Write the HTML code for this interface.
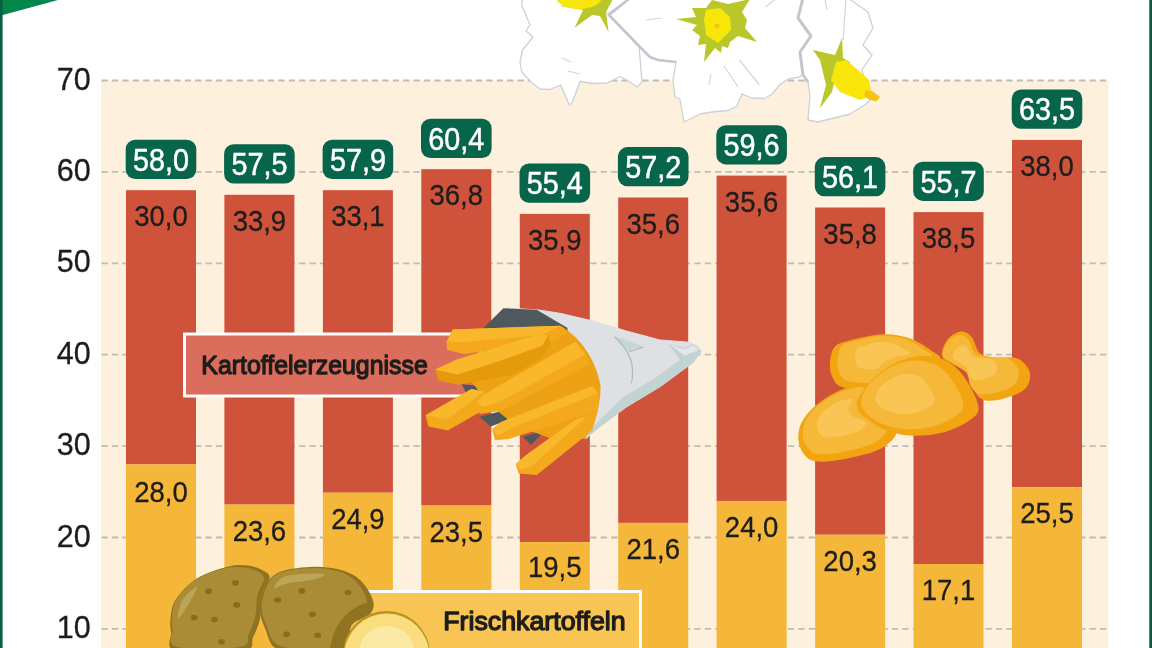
<!DOCTYPE html>
<html lang="de"><head><meta charset="utf-8"><title>Kartoffelverbrauch</title>
<style>html,body{margin:0;padding:0;background:#fff;}body{width:1152px;height:648px;overflow:hidden;}svg{display:block;}text{font-family:"Liberation Sans",sans-serif;}</style></head><body>
<svg width="1152" height="648" viewBox="0 0 1152 648">
<rect width="1152" height="648" fill="#fff"/>
<rect x="101" y="80.5" width="1007.5" height="567.5" fill="#fdf0dc"/>
<line x1="101" x2="1108.5" y1="628.9" y2="628.9" stroke="#bfbdb3" stroke-width="1.8" stroke-dasharray="6.3 4.1" stroke-dashoffset="-0.5"/>
<line x1="101" x2="1108.5" y1="537.5" y2="537.5" stroke="#bfbdb3" stroke-width="1.8" stroke-dasharray="6.3 4.1" stroke-dashoffset="-0.5"/>
<line x1="101" x2="1108.5" y1="446.1" y2="446.1" stroke="#bfbdb3" stroke-width="1.8" stroke-dasharray="6.3 4.1" stroke-dashoffset="-0.5"/>
<line x1="101" x2="1108.5" y1="354.7" y2="354.7" stroke="#bfbdb3" stroke-width="1.8" stroke-dasharray="6.3 4.1" stroke-dashoffset="-0.5"/>
<line x1="101" x2="1108.5" y1="263.3" y2="263.3" stroke="#bfbdb3" stroke-width="1.8" stroke-dasharray="6.3 4.1" stroke-dashoffset="-0.5"/>
<line x1="101" x2="1108.5" y1="171.9" y2="171.9" stroke="#bfbdb3" stroke-width="1.8" stroke-dasharray="6.3 4.1" stroke-dashoffset="-0.5"/>
<line x1="101" x2="1108.5" y1="80.5" y2="80.5" stroke="#bfbdb3" stroke-width="1.8" stroke-dasharray="6.3 4.1" stroke-dashoffset="-0.5"/>
<text x="90.8" y="637.9" font-size="30.5" text-anchor="end" fill="#1d1d1b" stroke="#1d1d1b" stroke-width="0.3">10</text>
<text x="90.8" y="546.5" font-size="30.5" text-anchor="end" fill="#1d1d1b" stroke="#1d1d1b" stroke-width="0.3">20</text>
<text x="90.8" y="455.1" font-size="30.5" text-anchor="end" fill="#1d1d1b" stroke="#1d1d1b" stroke-width="0.3">30</text>
<text x="90.8" y="363.7" font-size="30.5" text-anchor="end" fill="#1d1d1b" stroke="#1d1d1b" stroke-width="0.3">40</text>
<text x="90.8" y="272.3" font-size="30.5" text-anchor="end" fill="#1d1d1b" stroke="#1d1d1b" stroke-width="0.3">50</text>
<text x="90.8" y="180.9" font-size="30.5" text-anchor="end" fill="#1d1d1b" stroke="#1d1d1b" stroke-width="0.3">60</text>
<text x="90.8" y="89.5" font-size="30.5" text-anchor="end" fill="#1d1d1b" stroke="#1d1d1b" stroke-width="0.3">70</text>
<rect x="126.0" y="190.2" width="70" height="274.2" fill="#cf523b"/>
<rect x="126.0" y="464.4" width="70" height="183.6" fill="#f5b73a"/>
<rect x="224.4" y="194.8" width="70" height="309.8" fill="#cf523b"/>
<rect x="224.4" y="504.6" width="70" height="143.4" fill="#f5b73a"/>
<rect x="322.9" y="190.2" width="70" height="302.5" fill="#cf523b"/>
<rect x="322.9" y="492.7" width="70" height="155.3" fill="#f5b73a"/>
<rect x="421.3" y="169.2" width="70" height="336.4" fill="#cf523b"/>
<rect x="421.3" y="505.5" width="70" height="142.5" fill="#f5b73a"/>
<rect x="519.8" y="213.9" width="70" height="328.1" fill="#cf523b"/>
<rect x="519.8" y="542.1" width="70" height="105.9" fill="#f5b73a"/>
<rect x="618.2" y="197.5" width="70" height="325.4" fill="#cf523b"/>
<rect x="618.2" y="522.9" width="70" height="125.1" fill="#f5b73a"/>
<rect x="716.6" y="175.6" width="70" height="325.4" fill="#cf523b"/>
<rect x="716.6" y="500.9" width="70" height="147.1" fill="#f5b73a"/>
<rect x="815.1" y="207.5" width="70" height="327.2" fill="#cf523b"/>
<rect x="815.1" y="534.8" width="70" height="113.2" fill="#f5b73a"/>
<rect x="913.5" y="212.1" width="70" height="351.9" fill="#cf523b"/>
<rect x="913.5" y="564.0" width="70" height="84.0" fill="#f5b73a"/>
<rect x="1012.0" y="139.9" width="70" height="347.3" fill="#cf523b"/>
<rect x="1012.0" y="487.2" width="70" height="160.8" fill="#f5b73a"/>
<rect x="125.7" y="139.8" width="70.6" height="39.2" rx="9.5" fill="#06654b"/>
<text x="161.0" y="170.7" font-size="30.5" text-anchor="middle" fill="#fff" stroke="#fff" stroke-width="0.5" textLength="56" lengthAdjust="spacingAndGlyphs">58,0</text>
<text x="161.0" y="226.2" font-size="29.8" text-anchor="middle" fill="#1d1d1b" stroke="#1d1d1b" stroke-width="0.3" textLength="53.5" lengthAdjust="spacingAndGlyphs">30,0</text>
<text x="161.0" y="501.7" font-size="29.8" text-anchor="middle" fill="#1d1d1b" stroke="#1d1d1b" stroke-width="0.3" textLength="53.5" lengthAdjust="spacingAndGlyphs">28,0</text>
<rect x="224.1" y="144.3" width="70.6" height="39.2" rx="9.5" fill="#06654b"/>
<text x="259.4" y="175.2" font-size="30.5" text-anchor="middle" fill="#fff" stroke="#fff" stroke-width="0.5" textLength="56" lengthAdjust="spacingAndGlyphs">57,5</text>
<text x="259.4" y="230.8" font-size="29.8" text-anchor="middle" fill="#1d1d1b" stroke="#1d1d1b" stroke-width="0.3" textLength="53.5" lengthAdjust="spacingAndGlyphs">33,9</text>
<text x="259.4" y="540.6" font-size="29.8" text-anchor="middle" fill="#1d1d1b" stroke="#1d1d1b" stroke-width="0.3" textLength="53.5" lengthAdjust="spacingAndGlyphs">23,6</text>
<rect x="322.6" y="139.8" width="70.6" height="39.2" rx="9.5" fill="#06654b"/>
<text x="357.9" y="170.7" font-size="30.5" text-anchor="middle" fill="#fff" stroke="#fff" stroke-width="0.5" textLength="56" lengthAdjust="spacingAndGlyphs">57,9</text>
<text x="357.9" y="226.2" font-size="29.8" text-anchor="middle" fill="#1d1d1b" stroke="#1d1d1b" stroke-width="0.3" textLength="53.5" lengthAdjust="spacingAndGlyphs">33,1</text>
<text x="357.9" y="528.7" font-size="29.8" text-anchor="middle" fill="#1d1d1b" stroke="#1d1d1b" stroke-width="0.3" textLength="53.5" lengthAdjust="spacingAndGlyphs">24,9</text>
<rect x="421.0" y="118.8" width="70.6" height="39.2" rx="9.5" fill="#06654b"/>
<text x="456.3" y="149.7" font-size="30.5" text-anchor="middle" fill="#fff" stroke="#fff" stroke-width="0.5" textLength="56" lengthAdjust="spacingAndGlyphs">60,4</text>
<text x="456.3" y="205.2" font-size="29.8" text-anchor="middle" fill="#1d1d1b" stroke="#1d1d1b" stroke-width="0.3" textLength="53.5" lengthAdjust="spacingAndGlyphs">36,8</text>
<text x="456.3" y="541.5" font-size="29.8" text-anchor="middle" fill="#1d1d1b" stroke="#1d1d1b" stroke-width="0.3" textLength="53.5" lengthAdjust="spacingAndGlyphs">23,5</text>
<rect x="519.5" y="163.5" width="70.6" height="39.2" rx="9.5" fill="#06654b"/>
<text x="554.8" y="194.4" font-size="30.5" text-anchor="middle" fill="#fff" stroke="#fff" stroke-width="0.5" textLength="56" lengthAdjust="spacingAndGlyphs">55,4</text>
<text x="554.8" y="249.9" font-size="29.8" text-anchor="middle" fill="#1d1d1b" stroke="#1d1d1b" stroke-width="0.3" textLength="53.5" lengthAdjust="spacingAndGlyphs">35,9</text>
<text x="554.8" y="576.6" font-size="29.8" text-anchor="middle" fill="#1d1d1b" stroke="#1d1d1b" stroke-width="0.3" textLength="53.5" lengthAdjust="spacingAndGlyphs">19,5</text>
<rect x="617.9" y="147.1" width="70.6" height="39.2" rx="9.5" fill="#06654b"/>
<text x="653.2" y="178.0" font-size="30.5" text-anchor="middle" fill="#fff" stroke="#fff" stroke-width="0.5" textLength="56" lengthAdjust="spacingAndGlyphs">57,2</text>
<text x="653.2" y="233.5" font-size="29.8" text-anchor="middle" fill="#1d1d1b" stroke="#1d1d1b" stroke-width="0.3" textLength="53.5" lengthAdjust="spacingAndGlyphs">35,6</text>
<text x="653.2" y="558.9" font-size="29.8" text-anchor="middle" fill="#1d1d1b" stroke="#1d1d1b" stroke-width="0.3" textLength="53.5" lengthAdjust="spacingAndGlyphs">21,6</text>
<rect x="716.3" y="125.2" width="70.6" height="39.2" rx="9.5" fill="#06654b"/>
<text x="751.6" y="156.1" font-size="30.5" text-anchor="middle" fill="#fff" stroke="#fff" stroke-width="0.5" textLength="56" lengthAdjust="spacingAndGlyphs">59,6</text>
<text x="751.6" y="211.6" font-size="29.8" text-anchor="middle" fill="#1d1d1b" stroke="#1d1d1b" stroke-width="0.3" textLength="53.5" lengthAdjust="spacingAndGlyphs">35,6</text>
<text x="751.6" y="536.9" font-size="29.8" text-anchor="middle" fill="#1d1d1b" stroke="#1d1d1b" stroke-width="0.3" textLength="53.5" lengthAdjust="spacingAndGlyphs">24,0</text>
<rect x="814.8" y="157.1" width="70.6" height="39.2" rx="9.5" fill="#06654b"/>
<text x="850.1" y="188.0" font-size="30.5" text-anchor="middle" fill="#fff" stroke="#fff" stroke-width="0.5" textLength="56" lengthAdjust="spacingAndGlyphs">56,1</text>
<text x="850.1" y="243.5" font-size="29.8" text-anchor="middle" fill="#1d1d1b" stroke="#1d1d1b" stroke-width="0.3" textLength="53.5" lengthAdjust="spacingAndGlyphs">35,8</text>
<text x="850.1" y="570.8" font-size="29.8" text-anchor="middle" fill="#1d1d1b" stroke="#1d1d1b" stroke-width="0.3" textLength="53.5" lengthAdjust="spacingAndGlyphs">20,3</text>
<rect x="913.2" y="161.7" width="70.6" height="39.2" rx="9.5" fill="#06654b"/>
<text x="948.5" y="192.6" font-size="30.5" text-anchor="middle" fill="#fff" stroke="#fff" stroke-width="0.5" textLength="56" lengthAdjust="spacingAndGlyphs">55,7</text>
<text x="948.5" y="248.1" font-size="29.8" text-anchor="middle" fill="#1d1d1b" stroke="#1d1d1b" stroke-width="0.3" textLength="53.5" lengthAdjust="spacingAndGlyphs">38,5</text>
<text x="948.5" y="600.0" font-size="29.8" text-anchor="middle" fill="#1d1d1b" stroke="#1d1d1b" stroke-width="0.3" textLength="53.5" lengthAdjust="spacingAndGlyphs">17,1</text>
<rect x="1011.7" y="89.5" width="70.6" height="39.2" rx="9.5" fill="#06654b"/>
<text x="1047.0" y="120.4" font-size="30.5" text-anchor="middle" fill="#fff" stroke="#fff" stroke-width="0.5" textLength="56" lengthAdjust="spacingAndGlyphs">63,5</text>
<text x="1047.0" y="175.9" font-size="29.8" text-anchor="middle" fill="#1d1d1b" stroke="#1d1d1b" stroke-width="0.3" textLength="53.5" lengthAdjust="spacingAndGlyphs">38,0</text>
<text x="1047.0" y="523.2" font-size="29.8" text-anchor="middle" fill="#1d1d1b" stroke="#1d1d1b" stroke-width="0.3" textLength="53.5" lengthAdjust="spacingAndGlyphs">25,5</text>
<rect x="184.5" y="334" width="296" height="62" fill="#da6d5b" stroke="#fff" stroke-width="3"/>
<text x="201.3" y="373.5" font-size="26" fill="#1d1d1b" stroke="#1d1d1b" stroke-width="1.3" stroke-linejoin="round" textLength="226.5" lengthAdjust="spacingAndGlyphs">Kartoffelerzeugnisse</text>
<rect x="340" y="591.5" width="300.5" height="70" fill="#f8c453" stroke="#fff" stroke-width="3"/>
<text x="443.2" y="630.3" font-size="26" fill="#1d1d1b" stroke="#1d1d1b" stroke-width="1.3" stroke-linejoin="round" textLength="182.5" lengthAdjust="spacingAndGlyphs">Frischkartoffeln</text>
<polygon points="522.5,-2.0 521.7,5.0 530.0,25.0 526.0,31.0 533.0,37.0 522.5,50.0 520.0,62.0 521.7,72.0 531.0,82.0 540.0,89.0 550.0,89.5 560.7,85.0 569.4,105.0 572.0,103.0 580.0,81.5 592.0,83.5 607.6,82.8 620.0,76.5 628.5,81.0 637.0,87.0 642.0,82.0 639.0,46.0 611.0,17.0 607.6,14.0 630.0,-2.0" fill="#fff" stroke="#cdd1d6" stroke-width="1.3" stroke-linejoin="round"/>
<polygon points="630.0,-2.0 609.0,15.0 639.0,46.0 650.0,57.0 658.0,60.0 676.0,62.0 673.0,80.0 675.0,97.0 680.0,99.0 684.0,122.0 700.0,114.0 712.0,112.0 728.0,110.5 737.0,106.0 742.0,94.0 752.0,98.0 764.5,98.5 772.0,94.0 780.5,84.0 788.5,79.0 800.0,77.0 806.0,70.0 800.0,52.0 811.0,36.0 798.0,18.0 803.0,-2.0" fill="#fff" stroke="#cdd1d6" stroke-width="1.3" stroke-linejoin="round"/>
<polygon points="803.0,-2.0 798.0,18.0 811.0,36.0 800.0,52.0 803.0,75.0 808.0,82.0 810.0,95.0 808.0,120.0 818.0,122.0 850.0,114.0 866.0,104.0 871.0,99.0 866.0,85.0 862.0,70.0 872.0,55.0 863.0,45.0 873.0,28.0 868.0,12.0 848.0,-2.0" fill="#fff" stroke="#cdd1d6" stroke-width="1.3" stroke-linejoin="round"/>
<polyline points="630,-2 609,15 639,46 650,57 658,60 676,62" fill="none" stroke="#c3c7cd" stroke-width="2.6" stroke-linejoin="round"/>
<polyline points="803,-2 798,18 811,36 800,52 803,75 808,82" fill="none" stroke="#c3c7cd" stroke-width="3" stroke-linejoin="round"/>
<polyline points="739.4,60 759.5,85" fill="none" stroke="#d3d6da" stroke-width="1.2"/>
<polyline points="724,66 738,87" fill="none" stroke="#d3d6da" stroke-width="1.2"/>
<polyline points="711,74 709,85" fill="none" stroke="#d3d6da" stroke-width="1.2"/>
<polyline points="646,20 662,18" fill="none" stroke="#d3d6da" stroke-width="1.2"/>
<polyline points="774.5,0 765.5,7" fill="none" stroke="#d3d6da" stroke-width="1.2"/>
<polyline points="562,58 571,62" fill="none" stroke="#d3d6da" stroke-width="1.2"/>
<polyline points="568,71 580,74" fill="none" stroke="#d3d6da" stroke-width="1.2"/>
<polyline points="846,0 843,40" fill="none" stroke="#d3d6da" stroke-width="1.2"/>
<polyline points="825,0 827,10" fill="none" stroke="#d3d6da" stroke-width="1.2"/>
<polygon points="560,6 583,10 574.6,27.8 592,15 600,16 608.5,32 606,12 613,-1 590,-1" fill="#b9c72b"/>
<ellipse cx="579" cy="-3" rx="23" ry="12" fill="#f8e60a"/>
<polygon points="676,19 696,17 692,8 706,8 712,0 728,4 750,-1 742,12 747,20 745,28 757,42 738,36 730,42 728,48 722,46 721,53 715,48 704,62 706,44 698,45 700,36 692,30 697,25" fill="#b9c72b"/>
<circle cx="718" cy="26" r="19" fill="#b9c72b"/>
<polygon points="706,10 720,8 730,17 731,30 718,43 706,35 704,20" fill="#f8e60a"/>
<circle cx="717" cy="26" r="2.5" fill="#f2c513"/>
<polygon points="813,50 835,55 842,38 843,58 850,62 836,75 832,92 820,108 826,85 820,60" fill="#b9c72b"/>
<polygon points="836,62 846,60 858,70 869,80 871,90 866,98 860,100 840,92 831,80" fill="#f8e60a"/>
<polygon points="866,90 872,91 880,97 876,101.5 868,99 864,95" fill="#f6c10f"/>
<polygon points="506.5,308.0 539.0,310.0 560.0,313.3 593.3,321.1 626.7,331.1 660.0,340.0 688.9,342.2 698.0,346.0 701.5,351.0 693.3,362.2 660.0,386.7 626.7,406.7 600.0,426.7 586.0,438.5 570.0,420.0 570.0,382.6 560.0,358.0 550.0,339.0 530.0,320.0" fill="#dfe0e3" stroke="#dfe0e3" stroke-width="1" stroke-linejoin="round"/>
<polygon points="701.3,351.6 693.3,362.7 660.0,387.1 626.7,407.1 600.0,427.1 584.4,439.6 586.7,433.3 622.2,397.8 655.6,377.8 680.0,360.0 668.9,344.4 684.4,347.8 693.3,344.4" fill="#c2d3d3"/>
<polygon points="671.1,345.6 684.4,349.3 693.3,345.6 698.9,350.0 684.4,355.6" fill="#e4e6e8"/>
<polygon points="614.4,336.7 628.9,351.6 633.3,348.0 643.3,347.1 624.4,338.9" fill="#c6d5d5"/>
<path d="M614.4,336.7 Q631.1,352.2 632.2,366.7 T630.7,383.3" fill="none" stroke="#aebcbf" stroke-width="1.3"/>
<polyline points="629.3,351.6 643.3,347.1" fill="none" stroke="#aebcbf" stroke-width="1.3"/>
<polygon points="483.3,328.3 503.3,308.3 536.7,309.7 567.2,327.8 570.0,344.4 503.3,344.4" fill="#4e595d"/>
<polygon points="461.7,384.2 486.7,386.7 479.7,395.8 465.8,392.2" fill="#4e595d"/>
<polygon points="479.7,416.7 517.2,406.9 506.1,420.8 490.8,426.4" fill="#4e595d"/>
<polygon points="522.8,436.7 545.0,430.6 531.1,445.0" fill="#4e595d"/>
<path d="M561.5,326 C584,341 596,362 600.5,386 C601,400 597,420 585,438.5 L560,442 L515,425 L490,405 L470,380 L500,345 L540,330 Z" fill="#eda114"/>
<polygon points="515.8,463.9 525.6,455.6 575.6,419.4 597.8,411.1 592.2,430.6 536.7,475.0 518.6,473.6" fill="#f4a81c"/>
<polygon points="515.8,463.9 525.6,455.6 575.6,419.4 586.7,416.7 531.1,466.7 520.0,469.4" fill="#f9b82c"/>
<polygon points="492.2,429.2 500.6,422.2 592.2,386.1 599.2,394.4 597.8,411.1 508.9,438.9 495.0,440.3" fill="#f4a81c"/>
<polygon points="492.2,429.2 500.6,422.2 592.2,386.1 597.8,393.1 511.7,427.8 497.8,436.1" fill="#f9b82c"/>
<polygon points="425.6,415.3 471.4,388.9 483.9,391.7 486.7,408.3 447.8,430.6 428.3,426.4" fill="#f4a81c"/>
<polygon points="425.6,415.3 471.4,388.9 483.9,391.7 446.4,419.4" fill="#f9b82c"/>
<polygon points="476.9,402.8 483.9,394.4 575.6,341.7 586.7,355.6 589.4,363.9 500.6,411.1 479.7,413.9" fill="#f4a81c"/>
<polygon points="476.9,402.8 483.9,394.4 575.6,341.7 585.3,354.2 497.8,402.8 482.5,406.9" fill="#f9b82c"/>
<polygon points="446.4,341.7 452.8,329.4 560.3,325.8 567.2,333.3 550.6,341.7 464.4,354.2 447.2,350.0" fill="#f4a81c"/>
<polygon points="452.8,329.4 560.3,325.8 542.2,334.7 461.7,342.2 446.9,341.7" fill="#f9b82c"/>
<polygon points="435.3,369.4 456.1,359.7 536.7,334.7 549.2,334.7 550.6,345.8 539.4,359.7 511.7,375.0 458.9,384.7 438.1,380.6" fill="#e59a0c"/>
<polygon points="435.3,369.4 456.1,359.7 536.7,334.7 548.3,334.7 542.2,345.8 503.3,359.7 457.5,374.4" fill="#f9b82c"/>
<path d="M829.9,364.0C830.2,359.0 831.1,351.6 834.0,347.8C836.9,344.0 839.4,343.3 847.5,341.0C855.6,338.8 872.2,334.7 882.6,334.3C892.9,333.8 901.5,335.6 909.6,338.3C917.7,341.0 926.2,347.1 931.2,350.5C936.1,353.9 942.9,356.3 939.3,358.6C935.7,360.8 918.1,361.3 909.6,364.0C901.0,366.7 894.3,370.7 888.0,374.8C881.7,378.8 879.4,386.3 871.8,388.3C864.1,390.3 848.6,388.7 842.1,386.9C835.6,385.1 834.7,381.3 832.6,377.5C830.6,373.7 829.7,368.9 829.9,364.0Z" fill="#f2a510"/>
<path d="M837.3,361.3C837.5,357.1 838.3,350.7 840.8,347.4C843.3,344.1 845.5,343.5 852.4,341.6C859.4,339.7 873.7,336.2 882.6,335.8C891.5,335.4 898.9,337.0 905.8,339.3C912.8,341.6 920.1,346.8 924.4,349.7C928.7,352.6 934.5,354.8 931.4,356.7C928.3,358.6 913.2,359.0 905.8,361.3C898.5,363.7 892.7,367.2 887.2,370.6C881.8,374.1 879.9,380.5 873.3,382.2C866.7,384.0 853.4,382.6 847.8,381.1C842.2,379.5 841.4,376.2 839.7,373.0C837.9,369.7 837.1,365.6 837.3,361.3Z" fill="#f6b838"/>
<path d="M855.0,356.9C855.1,354.4 855.5,350.7 857.0,348.8C858.4,346.8 859.7,346.5 863.7,345.4C867.8,344.3 876.1,342.2 881.3,342.0C886.5,341.8 890.7,342.7 894.8,344.0C898.8,345.4 903.1,348.4 905.6,350.1C908.1,351.8 911.4,353.0 909.6,354.2C907.8,355.3 899.1,355.5 894.8,356.9C890.5,358.2 887.1,360.2 884.0,362.3C880.8,364.3 879.7,368.0 875.9,369.0C872.1,370.0 864.3,369.2 861.0,368.3C857.8,367.4 857.3,365.5 856.3,363.6C855.3,361.7 854.8,359.3 855.0,356.9Z" fill="#f9c95f" opacity="0.75"/>
<path d="M942.0,355.9C941.1,351.8 944.2,343.7 947.4,339.7C950.5,335.6 956.8,332.0 960.9,331.6C964.9,331.1 968.5,333.4 971.7,337.0C974.8,340.6 975.7,349.8 979.8,353.2C983.8,356.6 989.7,356.3 996.0,357.2C1002.3,358.1 1012.0,356.1 1017.6,358.6C1023.2,361.1 1028.4,367.1 1029.7,372.1C1031.1,377.0 1029.5,384.0 1025.7,388.3C1021.9,392.6 1013.5,395.7 1006.8,397.7C1000.0,399.8 990.6,401.6 985.2,400.4C979.8,399.3 977.1,395.3 974.4,391.0C971.7,386.7 972.6,379.3 969.0,374.8C965.4,370.3 957.3,367.1 952.8,364.0C948.3,360.8 942.9,359.9 942.0,355.9Z" fill="#f2a510"/>
<path d="M942.9,356.0C942.2,352.5 944.9,345.5 947.6,342.1C950.3,338.6 955.7,335.5 959.2,335.1C962.7,334.7 965.8,336.6 968.5,339.7C971.2,342.8 972.0,350.8 975.5,353.7C978.9,356.6 984.0,356.4 989.4,357.2C994.8,357.9 1003.1,356.2 1008.0,358.3C1012.8,360.4 1017.2,365.7 1018.4,369.9C1019.6,374.2 1018.2,380.2 1014.9,383.9C1011.6,387.5 1004.5,390.2 998.7,392.0C992.9,393.7 984.7,395.3 980.1,394.3C975.5,393.3 973.1,389.9 970.8,386.2C968.5,382.5 969.3,376.1 966.2,372.2C963.1,368.4 956.1,365.7 952.2,363.0C948.4,360.2 943.7,359.5 942.9,356.0Z" fill="#f6b838"/>
<path d="M952.9,357.6C952.4,355.6 954.0,351.5 955.6,349.5C957.2,347.5 960.3,345.7 962.3,345.5C964.4,345.2 966.2,346.4 967.7,348.2C969.3,350.0 969.8,354.6 971.8,356.3C973.8,358.0 976.7,357.8 979.9,358.3C983.0,358.7 987.9,357.7 990.7,359.0C993.5,360.2 996.1,363.2 996.7,365.7C997.4,368.2 996.6,371.7 994.7,373.8C992.8,376.0 988.6,377.5 985.3,378.5C981.9,379.6 977.2,380.5 974.5,379.9C971.8,379.3 970.4,377.3 969.1,375.2C967.7,373.0 968.2,369.3 966.4,367.1C964.6,364.8 960.5,363.2 958.3,361.7C956.0,360.1 953.3,359.6 952.9,357.6Z" fill="#f9c95f" opacity="0.75"/>
<path d="M798.4,434.2C798.8,428.8 800.6,423.4 804.3,418.0C808.0,412.6 813.7,406.7 820.5,401.8C827.2,396.8 836.7,391.2 844.8,388.3C852.9,385.4 866.4,382.0 869.1,384.2C871.8,386.5 861.0,396.2 861.0,401.8C861.0,407.4 863.2,413.3 869.1,418.0C874.9,422.7 893.8,425.2 896.1,430.1C898.3,435.1 890.7,443.0 882.6,447.7C874.5,452.4 858.7,456.2 847.5,458.5C836.2,460.7 822.7,462.5 815.1,461.2C807.4,459.8 804.4,454.9 801.6,450.4C798.8,445.9 797.9,439.6 798.4,434.2Z" fill="#f2a510"/>
<path d="M802.8,430.7C803.2,426.0 804.7,421.4 807.9,416.7C811.1,412.1 816.0,407.1 821.8,402.8C827.7,398.6 835.8,393.7 842.7,391.2C849.7,388.7 861.3,385.8 863.6,387.7C866.0,389.7 856.7,398.0 856.7,402.8C856.7,407.7 858.6,412.7 863.6,416.7C868.7,420.8 884.9,422.9 886.9,427.2C888.8,431.4 882.2,438.2 875.3,442.3C868.3,446.3 854.7,449.6 845.1,451.6C835.4,453.5 823.8,455.1 817.2,453.9C810.6,452.7 808.0,448.5 805.6,444.6C803.2,440.7 802.4,435.3 802.8,430.7Z" fill="#f6b838"/>
<path d="M817.0,424.0C817.2,421.3 818.1,418.6 819.9,415.9C821.8,413.2 824.7,410.2 828.0,407.8C831.4,405.3 836.1,402.5 840.2,401.0C844.2,399.5 851.0,397.9 852.3,399.0C853.7,400.1 848.3,404.9 848.3,407.8C848.3,410.6 849.4,413.5 852.3,415.9C855.3,418.2 864.7,419.5 865.8,421.9C867.0,424.4 863.1,428.3 859.1,430.7C855.0,433.1 847.2,435.0 841.5,436.1C835.9,437.2 829.2,438.1 825.3,437.5C821.5,436.8 820.0,434.3 818.6,432.1C817.2,429.8 816.7,426.7 817.0,424.0Z" fill="#f9c95f" opacity="0.75"/>
<path d="M859.6,401.8C860.5,396.4 863.5,389.2 869.1,382.9C874.7,376.6 884.8,368.5 893.4,364.0C901.9,359.5 911.4,356.3 920.4,355.9C929.4,355.4 939.7,357.2 947.4,361.3C955.0,365.3 961.1,372.5 966.3,380.2C971.5,387.8 978.0,400.4 978.4,407.2C978.9,413.9 975.1,416.4 969.0,420.7C962.9,425.0 951.9,430.4 942.0,432.8C932.1,435.3 919.5,436.2 909.6,435.5C899.7,434.9 890.2,432.2 882.6,428.8C874.9,425.4 867.5,419.8 863.7,415.3C859.9,410.8 858.7,407.2 859.6,401.8Z" fill="#f2a510"/>
<path d="M861.2,400.1C861.9,395.4 864.5,389.3 869.3,383.8C874.1,378.4 882.8,371.5 890.2,367.6C897.5,363.7 905.7,361.0 913.4,360.6C921.1,360.2 930.0,361.8 936.6,365.3C943.2,368.7 948.4,374.9 952.9,381.5C957.3,388.1 962.9,398.9 963.3,404.7C963.7,410.5 960.4,412.7 955.2,416.3C950.0,420.0 940.5,424.7 932.0,426.8C923.5,428.9 912.6,429.7 904.1,429.1C895.6,428.5 887.5,426.2 880.9,423.3C874.3,420.4 867.9,415.6 864.6,411.7C861.4,407.8 860.4,404.7 861.2,400.1Z" fill="#f6b838"/>
<path d="M875.3,397.1C875.7,394.4 877.2,390.8 880.0,387.6C882.8,384.5 887.9,380.4 892.1,378.2C896.4,375.9 901.1,374.4 905.6,374.1C910.1,373.9 915.3,374.8 919.1,376.8C923.0,378.9 926.0,382.5 928.6,386.3C931.2,390.1 934.4,396.4 934.7,399.8C934.9,403.2 933.0,404.4 929.9,406.5C926.9,408.7 921.4,411.4 916.4,412.6C911.5,413.9 905.2,414.3 900.2,414.0C895.3,413.6 890.6,412.3 886.7,410.6C882.9,408.9 879.2,406.1 877.3,403.8C875.4,401.6 874.8,399.8 875.3,397.1Z" fill="#f9c95f" opacity="0.75"/>
<path d="M170.6,618.3C171.4,612.8 171.4,606.2 175.8,599.6C180.2,592.9 188.3,583.9 196.9,578.5C205.5,573.0 218.7,568.9 227.3,566.7C235.9,564.6 242.2,564.8 248.4,565.6C254.7,566.4 261.3,569.3 264.8,571.4C268.4,573.6 269.9,574.6 269.5,578.5C269.1,582.4 264.1,588.2 262.5,594.9C260.9,601.5 261.7,611.3 260.1,618.3C258.6,625.3 255.9,631.6 253.1,637.1C250.4,642.5 256.6,648.8 243.7,651.1C230.9,653.5 187.9,654.2 175.8,651.1C163.7,648.0 172.0,637.8 171.1,632.4C170.2,626.9 169.8,623.8 170.6,618.3Z" fill="#8e7421"/>
<path d="M172.1,616.4C172.8,611.3 172.8,605.2 176.9,599.0C180.9,592.8 188.5,584.5 196.5,579.4C204.5,574.3 216.8,570.5 224.8,568.5C232.8,566.5 238.6,566.7 244.4,567.4C250.2,568.1 256.4,570.8 259.7,572.8C262.9,574.8 264.4,575.7 264.0,579.4C263.7,583.0 258.9,588.5 257.5,594.6C256.0,600.8 256.8,609.9 255.3,616.4C253.9,623.0 251.3,628.8 248.8,633.9C246.2,639.0 252.0,644.8 240.1,646.9C228.1,649.1 188.1,649.8 176.9,646.9C165.6,644.0 173.3,634.6 172.5,629.5C171.7,624.4 171.3,621.5 172.1,616.4Z" fill="#a98c35"/>
<path d="M260.1,606.6C260.5,599.2 263.7,589.0 267.2,583.2C270.7,577.3 273.4,574.2 281.2,571.4C289.1,568.7 303.9,566.9 314.0,566.7C324.2,566.6 334.4,567.9 342.2,570.3C350.0,572.6 355.8,575.9 360.9,580.8C366.0,585.7 371.1,594.1 372.6,599.6C374.2,605.0 373.8,609.3 370.3,613.6C366.8,617.9 356.2,619.1 351.5,625.3C346.9,631.6 353.9,646.8 342.2,651.1C330.5,655.4 294.1,655.0 281.2,651.1C268.4,647.2 268.4,635.1 264.8,627.7C261.3,620.3 259.8,614.0 260.1,606.6Z" fill="#8e7421"/>
<path d="M261.8,605.0C262.2,598.1 265.1,588.7 268.3,583.2C271.6,577.8 274.2,574.8 281.4,572.3C288.7,569.8 302.5,568.1 311.9,567.9C321.4,567.8 330.8,569.0 338.1,571.2C345.4,573.4 350.8,576.5 355.5,581.0C360.3,585.6 365.0,593.4 366.4,598.5C367.9,603.5 367.5,607.5 364.2,611.5C361.0,615.5 351.2,616.6 346.8,622.4C342.5,628.2 349.0,642.4 338.1,646.4C327.2,650.4 293.4,650.0 281.4,646.4C269.4,642.8 269.4,631.5 266.2,624.6C262.9,617.7 261.4,611.9 261.8,605.0Z" fill="#a98c35"/>
<path d="M178.1,618.3C177.0,617.9 179.7,604.8 182.8,599.6C185.9,594.3 195.7,586.3 196.9,586.7C198.0,587.1 193.0,596.6 189.8,601.9C186.7,607.2 179.3,618.7 178.1,618.3Z" fill="#c2ab62" opacity="0.8"/>
<path d="M274.2,587.8C273.8,586.7 277.7,578.5 285.9,576.1C294.1,573.8 318.7,573.2 323.4,573.8C328.1,574.4 319.9,578.1 314.0,579.6C308.2,581.2 294.9,581.8 288.3,583.2C281.6,584.5 274.6,589.0 274.2,587.8Z" fill="#c2ab62" opacity="0.8"/>
<ellipse cx="235.5" cy="582.7" rx="3.4" ry="2.8" fill="#8a6c1d"/>
<ellipse cx="208.6" cy="591.4" rx="3.4" ry="2.8" fill="#8a6c1d"/>
<ellipse cx="236.7" cy="604.9" rx="3.4" ry="2.8" fill="#8a6c1d"/>
<ellipse cx="194.1" cy="617.6" rx="3.4" ry="2.8" fill="#8a6c1d"/>
<ellipse cx="214.4" cy="619.5" rx="3.4" ry="2.8" fill="#8a6c1d"/>
<ellipse cx="221.5" cy="641.7" rx="3.4" ry="2.8" fill="#8a6c1d"/>
<ellipse cx="277.7" cy="600.0" rx="3.4" ry="2.8" fill="#8a6c1d"/>
<ellipse cx="301.9" cy="590.9" rx="3.4" ry="2.8" fill="#8a6c1d"/>
<ellipse cx="348.0" cy="592.5" rx="3.4" ry="2.8" fill="#8a6c1d"/>
<ellipse cx="312.4" cy="614.3" rx="3.4" ry="2.8" fill="#8a6c1d"/>
<ellipse cx="286.6" cy="634.2" rx="3.4" ry="2.8" fill="#8a6c1d"/>
<ellipse cx="317.6" cy="635.2" rx="3.4" ry="2.8" fill="#8a6c1d"/>
<clipPath id="p2c"><path d="M260.1,606.6C260.5,599.2 263.7,589.0 267.2,583.2C270.7,577.3 273.4,574.2 281.2,571.4C289.1,568.7 303.9,566.9 314.0,566.7C324.2,566.6 334.4,567.9 342.2,570.3C350.0,572.6 355.8,575.9 360.9,580.8C366.0,585.7 371.1,594.1 372.6,599.6C374.2,605.0 373.8,609.3 370.3,613.6C366.8,617.9 356.2,619.1 351.5,625.3C346.9,631.6 353.9,646.8 342.2,651.1C330.5,655.4 294.1,655.0 281.2,651.1C268.4,647.2 268.4,635.1 264.8,627.7C261.3,620.3 259.8,614.0 260.1,606.6Z"/></clipPath>
<circle cx="383" cy="653" r="53" fill="#8e7421" clip-path="url(#p2c)"/>
<circle cx="386.5" cy="654.5" r="43.5" fill="#b9951f"/>
<circle cx="386.8" cy="656" r="42.6" fill="#f9dd7e"/>
<ellipse cx="386.8" cy="650" rx="27" ry="24" fill="#fbe9a6"/>
<polygon points="0,0 58,0 0,15.8" fill="#03864a"/>
<rect x="0" y="0" width="2.6" height="648" fill="#066045"/>
<rect x="1149.3" y="0" width="3" height="648" fill="#075c41"/>
</svg></body></html>
